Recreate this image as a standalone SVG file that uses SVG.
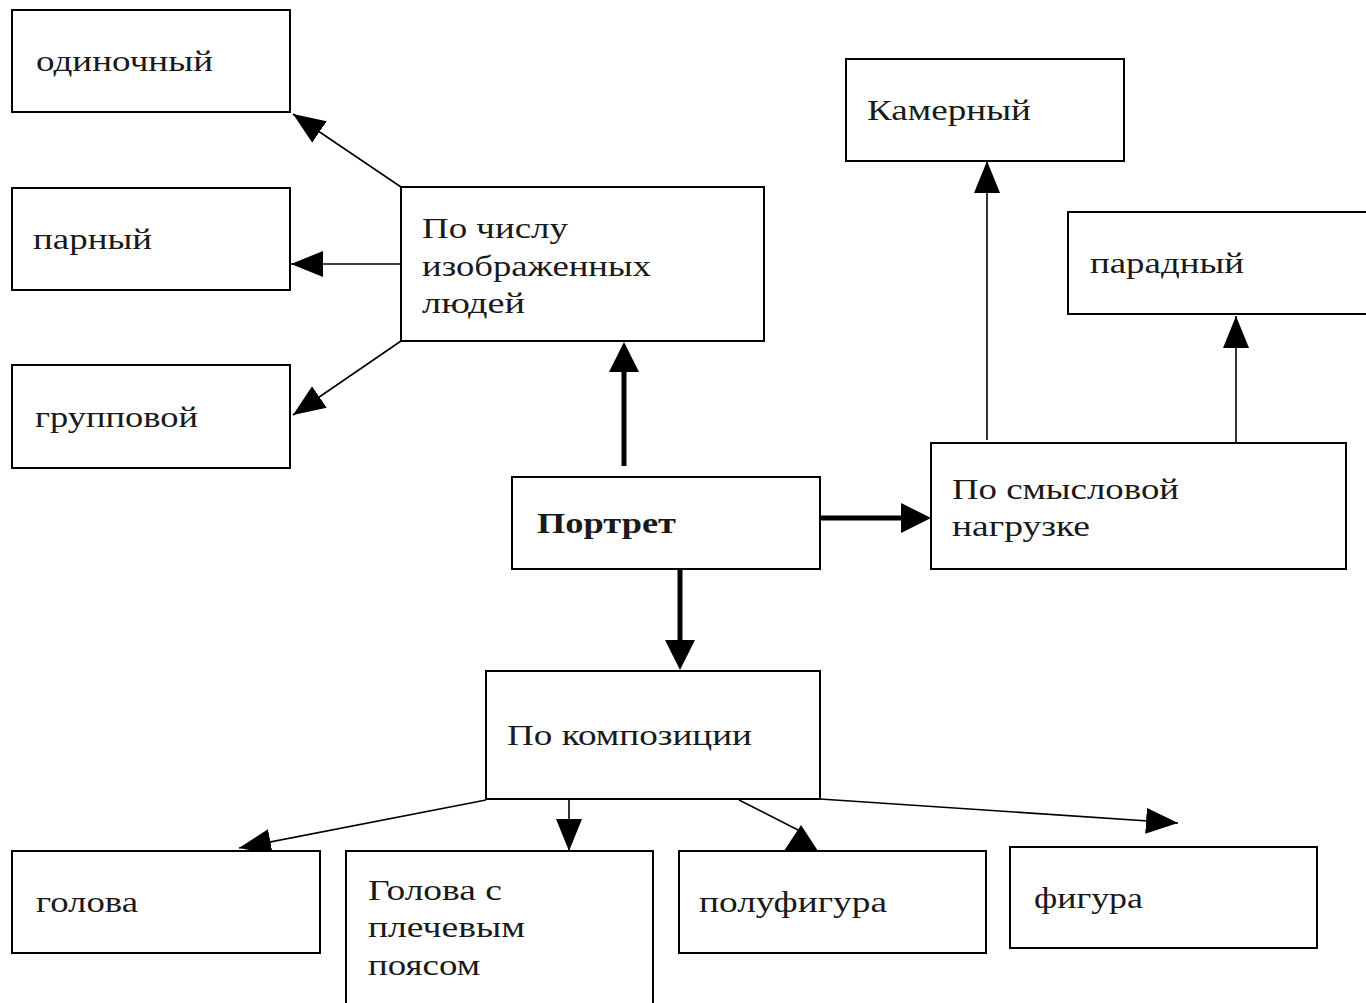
<svg xmlns="http://www.w3.org/2000/svg" width="1366" height="1003" viewBox="0 0 1366 1003">
<style>
.box{fill:#fff;stroke:#000;stroke-width:2}
.t{font-family:"Liberation Serif","DejaVu Serif",serif;font-size:30px;fill:#1a1a1a}
.b{font-weight:bold}
.thin{stroke:#000;stroke-width:1.6;fill:none}
.thick{stroke:#000;stroke-width:5;fill:none}
.head{fill:#000}
</style>
<defs>
<marker id="ah" markerUnits="userSpaceOnUse" markerWidth="34" markerHeight="28" refX="32" refY="13" orient="auto"><path d="M0,0 L32,13 L0,26 z" fill="#000"/></marker>
<marker id="ahT" markerUnits="userSpaceOnUse" markerWidth="32" markerHeight="32" refX="22" refY="15" orient="auto"><path d="M0,0 L30,15 L0,30 z" fill="#000"/></marker>
</defs>
<rect width="1366" height="1003" fill="#fff"/>
<g id="connectors">
<line class="thin" x1="401" y1="187" x2="293" y2="114" marker-end="url(#ah)"/>
<line class="thin" x1="401" y1="264" x2="291" y2="264" marker-end="url(#ah)"/>
<line class="thin" x1="401" y1="341" x2="293" y2="415" marker-end="url(#ah)"/>
<line class="thick" x1="624" y1="466" x2="624" y2="350" marker-end="url(#ahT)"/>
<line class="thick" x1="820" y1="518" x2="923" y2="518" marker-end="url(#ahT)"/>
<line class="thick" x1="680" y1="569" x2="680" y2="662" marker-end="url(#ahT)"/>
<line class="thin" x1="987" y1="440" x2="987" y2="161" marker-end="url(#ah)"/>
<line class="thin" x1="1236" y1="443" x2="1236" y2="316" marker-end="url(#ah)"/>
<line class="thin" x1="486" y1="800" x2="239" y2="848" marker-end="url(#ah)"/>
<line class="thin" x1="569" y1="799" x2="569" y2="851" marker-end="url(#ah)"/>
<line class="thin" x1="739" y1="800" x2="798" y2="830"/>
<polygon class="head" points="801,825 818,851 784,851"/>
<line class="thin" x1="820" y1="799" x2="1178" y2="823" marker-end="url(#ah)"/>
</g>
<g id="n-odinochny"><rect class="box" x="12" y="10" width="278" height="102"/><text class="t" x="36" y="71" textLength="177" lengthAdjust="spacingAndGlyphs">одиночный</text></g>
<g id="n-parny"><rect class="box" x="12" y="188" width="278" height="102"/><text class="t" x="33" y="249" textLength="119" lengthAdjust="spacingAndGlyphs">парный</text></g>
<g id="n-gruppovoy"><rect class="box" x="12" y="365" width="278" height="103"/><text class="t" x="35" y="427" textLength="163" lengthAdjust="spacingAndGlyphs">групповой</text></g>
<g id="n-po-chislu"><rect class="box" x="401" y="187" width="363" height="154"/>
<text class="t" x="422" y="238" textLength="146" lengthAdjust="spacingAndGlyphs">По числу</text>
<text class="t" x="422" y="276" textLength="229" lengthAdjust="spacingAndGlyphs">изображенных</text>
<text class="t" x="422" y="313" textLength="103" lengthAdjust="spacingAndGlyphs">людей</text></g>
<g id="n-portret"><rect class="box" x="512" y="477" width="308" height="92"/><text class="t b" x="537" y="533" textLength="139" lengthAdjust="spacingAndGlyphs">Портрет</text></g>
<g id="n-kamerny"><rect class="box" x="846" y="59" width="278" height="102"/><text class="t" x="867" y="120" textLength="164" lengthAdjust="spacingAndGlyphs">Камерный</text></g>
<g id="n-paradny"><rect class="box" x="1068" y="212" width="310" height="102"/><text class="t" x="1090" y="273" textLength="154" lengthAdjust="spacingAndGlyphs">парадный</text></g>
<g id="n-po-smyslovoy"><rect class="box" x="931" y="443" width="415" height="126"/>
<text class="t" x="952" y="499" textLength="227" lengthAdjust="spacingAndGlyphs">По смысловой</text>
<text class="t" x="952" y="536" textLength="138" lengthAdjust="spacingAndGlyphs">нагрузке</text></g>
<g id="n-po-kompozicii"><rect class="box" x="486" y="671" width="334" height="128"/><text class="t" x="507" y="745" textLength="245" lengthAdjust="spacingAndGlyphs">По композиции</text></g>
<g id="n-golova"><rect class="box" x="12" y="851" width="308" height="102"/><text class="t" x="36" y="912" textLength="102" lengthAdjust="spacingAndGlyphs">голова</text></g>
<g id="n-golova-s-plechevym"><rect class="box" x="346" y="851" width="307" height="170"/>
<text class="t" x="368" y="900" textLength="134" lengthAdjust="spacingAndGlyphs">Голова с</text>
<text class="t" x="368" y="937" textLength="157" lengthAdjust="spacingAndGlyphs">плечевым</text>
<text class="t" x="368" y="975" textLength="112" lengthAdjust="spacingAndGlyphs">поясом</text></g>
<g id="n-polufigura"><rect class="box" x="679" y="851" width="307" height="102"/><text class="t" x="699" y="912" textLength="188" lengthAdjust="spacingAndGlyphs">полуфигура</text></g>
<g id="n-figura"><rect class="box" x="1010" y="847" width="307" height="101"/><text class="t" x="1034" y="908" textLength="109" lengthAdjust="spacingAndGlyphs">фигура</text></g>
</svg>
